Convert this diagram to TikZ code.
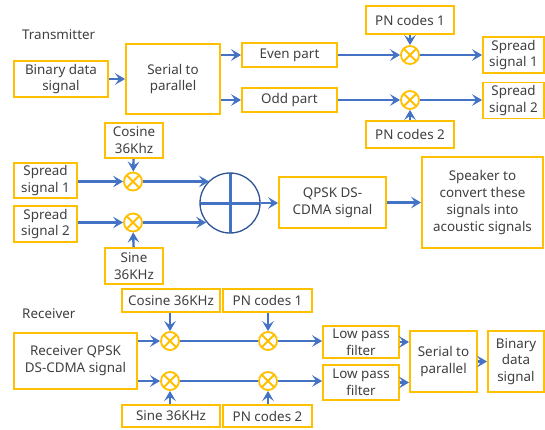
\documentclass[tikz,border=0pt]{standalone}
\usepackage{fontspec}
\setmainfont{Noto Sans}
\usetikzlibrary{arrows.meta,calc}
\definecolor{boxorange}{HTML}{FFC000}
\definecolor{flowblue}{HTML}{4472C4}
\definecolor{ringblue}{HTML}{2F5597}
\definecolor{txtgray}{HTML}{404040}
\tikzset{
  blk/.style={draw=boxorange, line width=1.8pt, fill=white, align=center,
    inner sep=0pt, text=txtgray, font=\fontsize{13.4}{16.8}\selectfont},
  mult/.style={circle, draw=boxorange, line width=1.8pt, fill=white,
    minimum size=18pt, inner sep=0pt,
    path picture={\draw[boxorange, line width=1.8pt]
      (path picture bounding box.north west) -- (path picture bounding box.south east)
      (path picture bounding box.north east) -- (path picture bounding box.south west);}},
  adder/.style={circle, draw=ringblue, line width=1.3pt, fill=white,
    minimum size=60pt, inner sep=0pt,
    path picture={\draw[flowblue, line width=3pt]
      (path picture bounding box.north) -- (path picture bounding box.south)
      (path picture bounding box.west) -- (path picture bounding box.east);}},
  flow/.style={draw=flowblue, line width=2.4pt, -{Stealth[length=10pt,width=11.5pt,inset=4pt]}},
  wire/.style={draw=flowblue, line width=2.4pt},
  heading/.style={anchor=west, inner sep=0pt, text=txtgray, font=\fontsize{13.4}{16}\selectfont}
}
\begin{document}
\begin{tikzpicture}[x=1pt,y=-1pt]
\useasboundingbox (0,0) rectangle (545,429);

% ---------- transmitter: spreading ----------
\node[heading] (ttx) at (22,35) {Transmitter};
\node[blk, minimum width=94pt, minimum height=36pt] (bin) at (61,79) {Binary data\\signal};
\node[blk, minimum width=94pt, minimum height=70pt] (s2p) at (173,79) {Serial to\\parallel};
\node[blk, minimum width=95pt, minimum height=24pt] (even) at (289.5,55) {Even part};
\node[blk, minimum width=95pt, minimum height=24pt] (odd) at (289.5,100) {Odd part};
\node[blk, minimum width=88pt, minimum height=28pt] (pn1) at (410,20) {PN codes 1};
\node[blk, minimum width=88pt, minimum height=27pt] (pn2) at (410,134.5) {PN codes 2};
\node[mult] (m1) at (410,55) {};
\node[mult] (m2) at (410,100) {};
\node[blk, minimum width=61pt, minimum height=36pt] (sp1) at (513.5,55) {Spread\\signal 1};
\node[blk, minimum width=61pt, minimum height=36pt] (sp2) at (513.5,100.5) {Spread\\signal 2};

\draw[flow] (bin) -- (s2p);
\draw[flow] (s2p.east |- even) -- (even);
\draw[flow] (s2p.east |- odd) -- (odd);
\draw[flow] (even) -- (m1);
\draw[flow] (odd) -- (m2);
\draw[flow] (pn1) -- (m1);
\draw[flow] (pn2) -- (m2);
\draw[flow] (m1) -- (sp1);
\draw[flow] (m2) -- (m2 -| sp2.west);

% ---------- transmitter: modulation ----------
\node[blk, minimum width=58pt, minimum height=35pt] (cos) at (134,140.5) {Cosine\\36Khz};
\node[blk, minimum width=58pt, minimum height=36pt] (sine) at (134,266) {Sine\\36KHz};
\node[blk, minimum width=63pt, minimum height=35pt] (ssp1) at (45.5,180.5) {Spread\\signal 1};
\node[blk, minimum width=63pt, minimum height=36pt] (ssp2) at (45.5,224) {Spread\\signal 2};
\node[mult] (m3) at (133,181.5) {};
\node[mult] (m4) at (133,222.5) {};
\node[adder] (sum) at (230,203) {};
\node[blk, minimum width=107pt, minimum height=51pt] (qpsk) at (332.5,202.5) {QPSK DS-\\CDMA signal};
\node[blk, minimum width=121pt, minimum height=91pt] (spk) at (482.5,202.5) {Speaker to\\convert these\\signals into\\acoustic signals};

\draw[flow] (ssp1.east |- m3) -- (m3);
\draw[flow] (ssp2.east |- m4) -- (m4);
\draw[flow] (cos) -- (m3);
\draw[flow] (sine) -- (m4);
\draw[flow] (m3) -- (m3 -| sum.133);
\draw[flow] (m4) -- (m4 -| sum.219);
\draw[flow] (sum.east) -- (sum.east -| qpsk.west);
\draw[flow] (qpsk) -- (spk);

% ---------- receiver ----------
\node[heading] (trx) at (22,314) {Receiver};
\node[blk, minimum width=123pt, minimum height=56pt] (rin) at (75.5,361) {Receiver QPSK\\DS-CDMA signal};
\node[blk, minimum width=98pt, minimum height=23pt] (rcos) at (171,300.5) {Cosine 36KHz};
\node[blk, minimum width=89pt, minimum height=23pt] (rpn1) at (267.5,300.5) {PN codes 1};
\node[blk, minimum width=98pt, minimum height=22pt] (rsin) at (171,416) {Sine 36KHz};
\node[blk, minimum width=89pt, minimum height=22pt] (rpn2) at (267.5,416) {PN codes 2};
\node[mult] (r1) at (170,341) {};
\node[mult] (r2) at (170,381) {};
\node[mult] (r3) at (268,341) {};
\node[mult] (r4) at (268,381) {};
\node[blk, minimum width=76pt, minimum height=32pt] (lpf1) at (361,342) {Low pass\\filter};
\node[blk, minimum width=76pt, minimum height=35pt] (lpf2) at (361,382.5) {Low pass\\filter};
\node[blk, minimum width=67pt, minimum height=61pt] (rs2p) at (443.5,361.5) {Serial to\\parallel};
\node[blk, minimum width=56pt, minimum height=61pt] (rbin) at (516,361.5) {Binary\\data\\signal};

\draw[flow] (rin.east |- r1) -- (r1);
\draw[flow] (rin.east |- r2) -- (r2);
\draw[flow] (rcos.south -| r1) -- (r1);
\draw[flow] (rsin.north -| r2) -- (r2);
\draw[flow] (rpn1.south -| r3) -- (r3);
\draw[flow] (rpn2.north -| r4) -- (r4);
\draw[wire] (r1) -- (r3);
\draw[wire] (r2) -- (r4);
\draw[flow] (r3) -- (r3 -| lpf1.west);
\draw[flow] (r4) -- (r4 -| lpf2.west);
\draw[flow] (lpf1.east) -- (lpf1.east -| rs2p.west);
\draw[flow] (lpf2.east) -- (lpf2.east -| rs2p.west);
\draw[flow] (rs2p) -- (rbin);
\end{tikzpicture}
\end{document}
